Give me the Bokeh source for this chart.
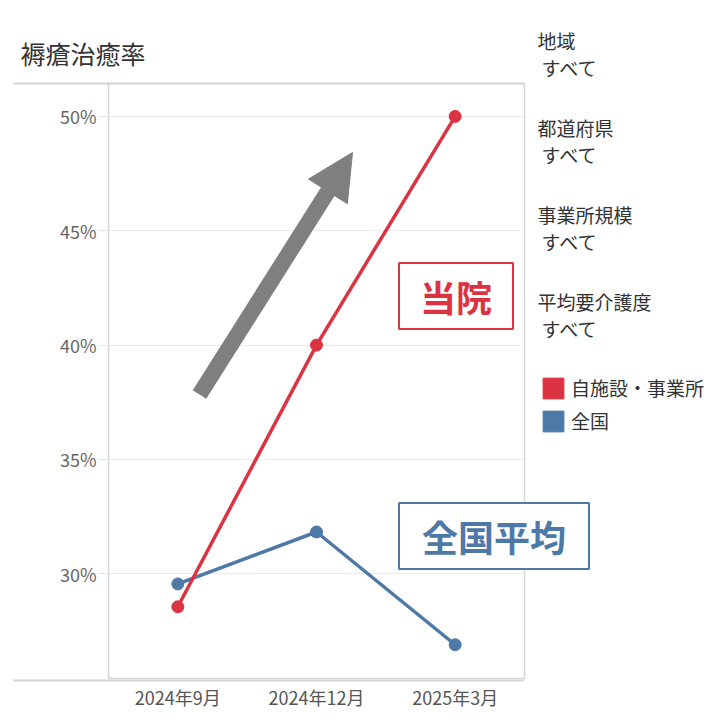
from bokeh.plotting import figure
from bokeh.models import (Range1d, FactorRange, FixedTicker, NumeralTickFormatter,
                          Label, Arrow, NormalHead, Legend, LegendItem, GridBox)
from bokeh.embed import file_html
from bokeh.resources import INLINE

# ---- data ----
months = ["2024年9月", "2024年12月", "2025年3月"]
own_rate = [0.2856, 0.400, 0.500]
national_rate = [0.2956, 0.3183, 0.2690]
y_ticks = [0.30, 0.35, 0.40, 0.45, 0.50]
series_names = ["自施設・事業所", "全国"]
filter_names = ["地域", "都道府県", "事業所規模", "平均要介護度"]
filter_values = ["すべて", "すべて", "すべて", "すべて"]
chart_title = "褥瘡治癒率"
own_callout = "当院"
national_callout = "全国平均"

RED = "#dc3343"
BLUE = "#4e79a7"
GRID = "#ececec"
FRAME = "#d6d6d6"
FONT = "Noto Sans CJK JP"

W, H = 717, 712

# ---------------- chart figure (real axes) ----------------
p = figure(width=W, height=H,
           x_range=FactorRange(*months),
           y_range=Range1d(0.25425, 0.51438),
           output_backend="svg", toolbar_location=None,
           min_border_left=108, min_border_right=W - 524,
           min_border_top=83, min_border_bottom=H - 680)
p.frame_align = False

p.background_fill_color = "white"
p.border_fill_color = "white"
p.outline_line_color = FRAME
p.outline_line_width = 1.5

p.yaxis.ticker = FixedTicker(ticks=y_ticks)
p.yaxis.formatter = NumeralTickFormatter(format="0%")
p.yaxis.axis_line_color = None
p.yaxis.major_tick_line_color = "#e2e2e2"
p.yaxis.major_tick_out = 10
p.yaxis.major_tick_in = 0
p.yaxis.minor_tick_line_color = None
p.yaxis.major_label_standoff = 2
p.yaxis.major_label_text_font = FONT
p.yaxis.major_label_text_font_size = "18px"
p.yaxis.major_label_text_color = "#666666"

p.xaxis.axis_line_color = None
p.xaxis.major_tick_line_color = None
p.xaxis.minor_tick_line_color = None
p.xaxis.major_tick_out = 0
p.xaxis.major_label_standoff = 5
p.xaxis.major_label_text_font = FONT
p.xaxis.major_label_text_font_size = "18px"
p.xaxis.major_label_text_color = "#555555"

p.xgrid.grid_line_color = None
p.ygrid.grid_line_color = GRID
p.ygrid.grid_line_width = 1

p.line(months, national_rate, line_width=3.5, color=BLUE)
p.scatter(months, national_rate, size=12, color=BLUE)
p.line(months, own_rate, line_width=3.5, color=RED)
p.scatter(months, own_rate, size=12, color=RED)

# ---------------- transparent overlay figure (page pixel coordinates) ----------------
ov = figure(width=W, height=H, x_range=Range1d(0, W), y_range=Range1d(H, 0),
            x_axis_type=None, y_axis_type=None,
            output_backend="svg", toolbar_location=None,
            min_border=0)
ov.frame_align = False
ov.background_fill_color = None
ov.border_fill_color = None
ov.outline_line_color = None

# legend swatches: one off-canvas square each, only used to draw the legend key
sw_red = ov.quad(left=[-30], right=[-20], top=[-30], bottom=[-20], color=RED)
sw_blue = ov.quad(left=[-30], right=[-20], top=[-30], bottom=[-20], color=BLUE)
legend = Legend(items=[LegendItem(label=series_names[0], renderers=[sw_red]),
                       LegendItem(label=series_names[1], renderers=[sw_blue])],
                location=(540, H - 434), orientation="vertical",
                glyph_width=26, glyph_height=26, spacing=6, label_standoff=5,
                padding=0, margin=0, border_line_color=None,
                background_fill_alpha=0,
                label_text_font=FONT, label_text_font_size="19px",
                label_text_color="#333333")
ov.add_layout(legend)

# extended top/bottom rules of the chart panel
for yp in (83, 680):
    ov.add_layout(Arrow(x_start=13, y_start=yp, x_end=524, y_end=yp, end=None,
                        line_color=FRAME, line_width=2))

# big grey trend arrow
ov.add_layout(Arrow(x_start=199, y_start=394, x_end=352, y_end=152,
                    line_color="#7f7f7f", line_width=16,
                    end=NormalHead(size=46, fill_color="#7f7f7f",
                                   line_color="#7f7f7f", line_width=1)))

# title
ov.add_layout(Label(x=20, y=52, text=chart_title, text_font=FONT,
                    text_font_size="25px", text_color="#333333",
                    text_align="left", text_baseline="middle"))

# filter panel
name_y = [40, 127, 214, 301]
for name, val, yp in zip(filter_names, filter_values, name_y):
    ov.add_layout(Label(x=537, y=yp, text=name, text_font=FONT,
                        text_font_size="19px", text_color="#333333",
                        text_align="left", text_baseline="middle"))
    ov.add_layout(Label(x=541, y=yp + 27, text=val, text_font=FONT,
                        text_font_size="19px", text_color="#333333",
                        text_align="left", text_baseline="middle"))

# callout boxes
ov.add_layout(Label(x=455.5, y=295.5, text=own_callout, text_font=FONT,
                    text_font_size="36px", text_font_style="bold", text_color=RED,
                    text_align="center", text_baseline="middle",
                    border_line_color=RED, border_line_width=2,
                    background_fill_color="white",
                    padding=dict(left=21, right=21, top=7, bottom=7)))
ov.add_layout(Label(x=493.5, y=535.5, text=national_callout, text_font=FONT,
                    text_font_size="36px", text_font_style="bold", text_color=BLUE,
                    text_align="center", text_baseline="middle",
                    border_line_color=BLUE, border_line_width=2,
                    background_fill_color="white",
                    padding=dict(left=23, right=23, top=7, bottom=7)))

layout = GridBox(children=[(p, 0, 0), (ov, 0, 0)])
open("out.html", "w").write(file_html(layout, INLINE))
